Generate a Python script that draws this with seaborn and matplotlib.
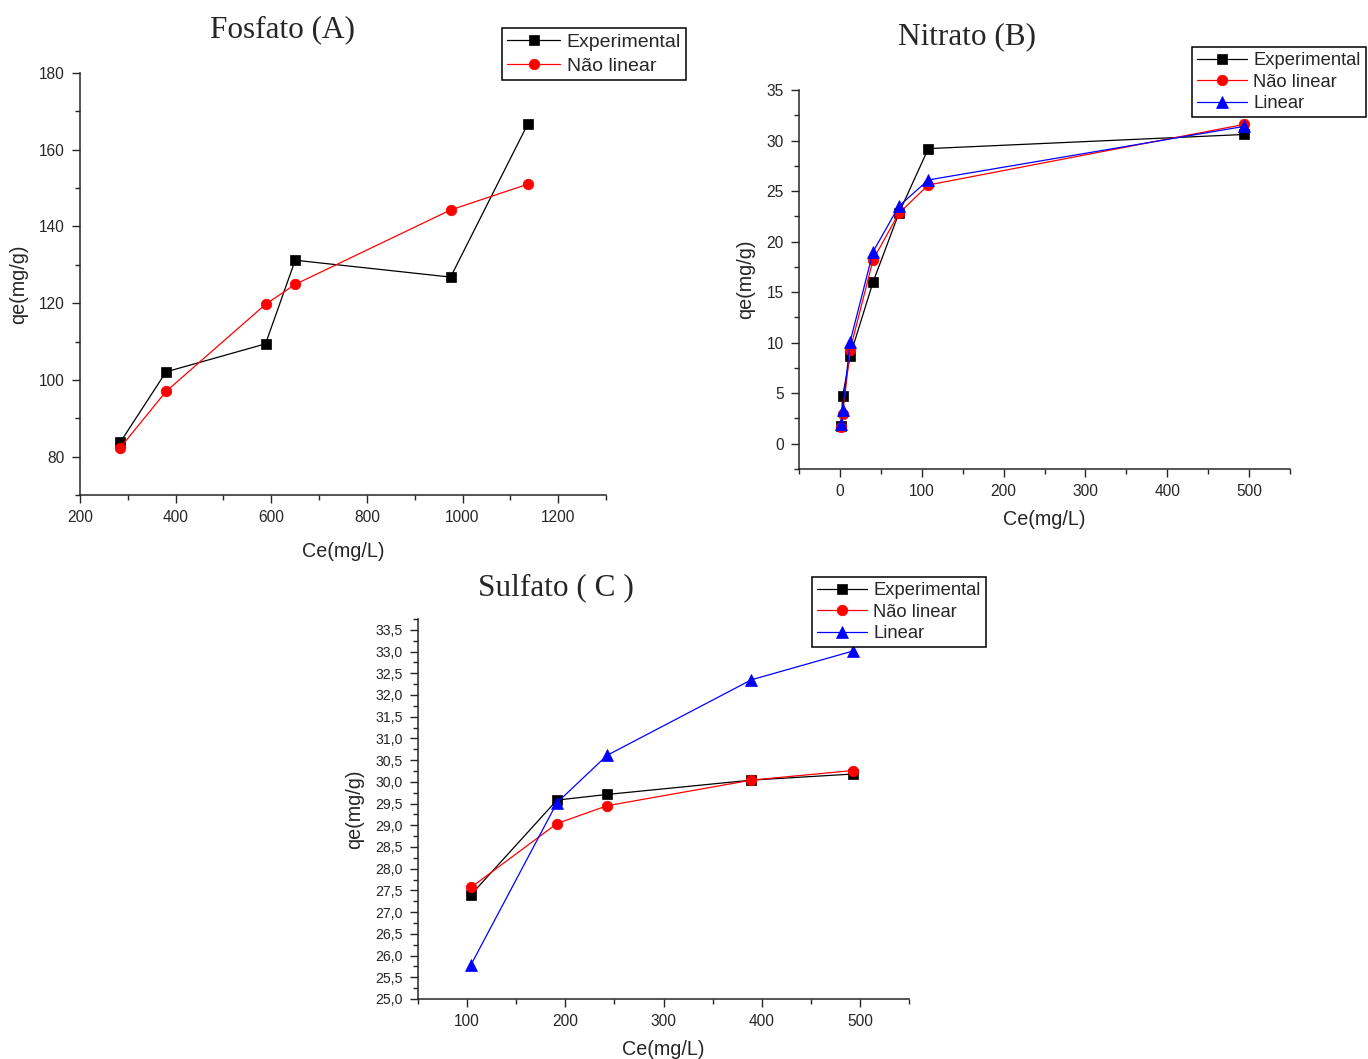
import matplotlib
matplotlib.use("Agg")
import matplotlib.pyplot as plt
from matplotlib.ticker import MultipleLocator, FuncFormatter
import seaborn as sns
import pandas as pd

# Fosfato (A)
fosfato_ce = [284, 380, 588, 650, 975, 1136]
fosfato_exp = [83.7, 102.1, 109.4, 131.2, 126.8, 166.6]
fosfato_nl = [82.3, 97.0, 119.7, 124.9, 144.3, 151.0]

# Nitrato (B)
nitrato_ce = [1.5, 3.3, 12.5, 40.5, 72, 108, 494]
nitrato_exp = [1.8, 4.7, 8.7, 16.0, 22.8, 29.2, 30.6]
nitrato_nl = [1.7, 2.9, 9.3, 18.2, 22.8, 25.6, 31.6]
nitrato_lin = [2.0, 3.3, 10.1, 19.0, 23.5, 26.1, 31.4]

# Sulfato (C)
sulfato_ce = [104, 191.5, 242.5, 389.5, 492.5]
sulfato_exp = [27.40, 29.58, 29.71, 30.04, 30.18]
sulfato_nl = [27.57, 29.04, 29.45, 30.04, 30.26]
sulfato_lin = [25.79, 29.52, 30.61, 32.35, 33.01]

series_names = ["Experimental", "Não linear", "Linear"]
x_label = "Ce(mg/L)"
y_label = "qe(mg/g)"

sns.set_style("ticks")
plt.rcParams["font.family"] = ["Liberation Sans", "DejaVu Sans"]
plt.rcParams["axes.linewidth"] = 1.1

W, H = 1368, 1059
fig = plt.figure(figsize=(W / 100, H / 100), dpi=100)


def px_axes(left, top, right, bottom):
    return fig.add_axes([left / W, 1 - bottom / H, (right - left) / W, (bottom - top) / H])


styles = {
    "Experimental": dict(color="black", marker="s", markersize=6.8),
    "Não linear": dict(color="#ff0000", marker="o", markersize=7.6),
    "Linear": dict(color="#0000ff", marker="^", markersize=8.2),
}


def draw(ax, x, ys):
    for name, y in zip(series_names, ys):
        df = pd.DataFrame({"x": x, "y": y})
        st = styles[name]
        sns.lineplot(data=df, x="x", y="y", ax=ax, estimator=None, sort=False,
                     color=st["color"], marker=st["marker"], markersize=st["markersize"],
                     markeredgecolor=st["color"], markeredgewidth=0.5,
                     linewidth=0.9, label=name)


def style_axes(ax, xlim, ylim, xmaj, xmin, ymaj, ymin, xpad=8):
    ax.set_xlim(*xlim)
    ax.set_ylim(*ylim)
    ax.xaxis.set_major_locator(MultipleLocator(xmaj))
    ax.xaxis.set_minor_locator(MultipleLocator(xmin))
    ax.yaxis.set_major_locator(MultipleLocator(ymaj))
    ax.yaxis.set_minor_locator(MultipleLocator(ymin))
    ax.tick_params(which="major", direction="out", length=6, width=1, labelsize=11.2, pad=5)
    ax.tick_params(which="minor", direction="out", length=3.5, width=1)
    sns.despine(ax=ax)
    ax.set_xlabel(x_label, fontsize=14.2, labelpad=xpad)
    ax.set_ylabel(y_label, fontsize=14.2, labelpad=8)


def legend(ax, left, top, size, spacing):
    ax.legend(loc="upper left", bbox_to_anchor=(left / W, 1 - top / H),
              bbox_transform=fig.transFigure, borderaxespad=0, frameon=True,
              fancybox=False, edgecolor="black", framealpha=1, fontsize=size,
              handlelength=2.7, handletextpad=0.35, labelspacing=spacing,
              borderpad=0.28)
    ax.get_legend().get_frame().set_linewidth(1.1)


# Panel A
axA = px_axes(80, 73, 606, 495)
draw(axA, fosfato_ce, [fosfato_exp, fosfato_nl])
style_axes(axA, (200, 1300), (70, 180), 200, 100, 20, 10, xpad=12)
legend(axA, 502, 28, 14, 0.32)

# Panel B
axB = px_axes(799, 90, 1290, 469)
draw(axB, nitrato_ce, [nitrato_exp, nitrato_nl, nitrato_lin])
style_axes(axB, (-50, 550), (-2.5, 35), 100, 50, 5, 2.5)
legend(axB, 1192, 47, 13.2, 0.25)

# Panel C
axC = px_axes(418, 619, 909, 999)
draw(axC, sulfato_ce, [sulfato_exp, sulfato_nl, sulfato_lin])
style_axes(axC, (50, 550), (25, 33.75), 100, 50, 0.5, 0.25)
axC.yaxis.set_major_formatter(FuncFormatter(lambda v, p: f"{v:.1f}".replace(".", ",")))
axC.tick_params(axis="y", labelsize=10.2)
legend(axC, 812, 577, 13.2, 0.25)

# Panel titles
title_kw = dict(family=["Liberation Serif", "DejaVu Serif"], fontsize=22.5, ha="center", va="center")
fig.text(282 / W, 1 - 30 / H, "Fosfato (A)", **title_kw)
fig.text(967 / W, 1 - 37 / H, "Nitrato (B)", **title_kw)
fig.text(556 / W, 1 - 588 / H, "Sulfato ( C )", **title_kw)

fig.savefig("out.png", dpi=100, facecolor="white")
